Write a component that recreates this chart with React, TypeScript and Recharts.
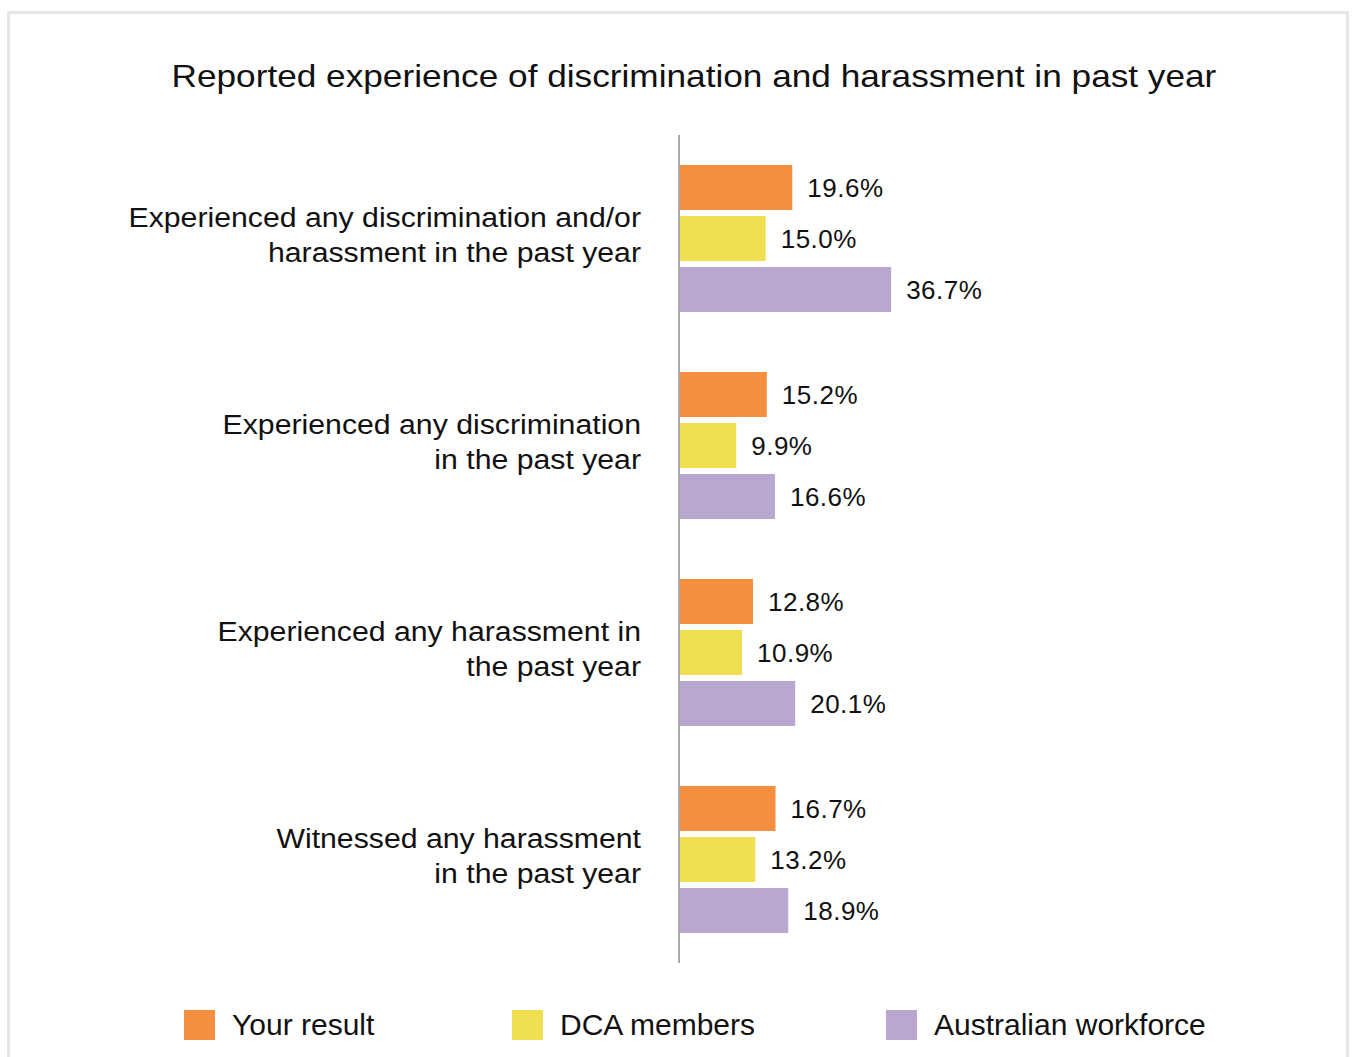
import React from "react";
import { BarChart, Bar, XAxis, YAxis, LabelList } from "recharts";

const categories = [
  "Experienced any discrimination and/or|harassment in the past year",
  "Experienced any discrimination|in the past year",
  "Experienced any harassment in|the past year",
  "Witnessed any harassment|in the past year",
];
const yourResult = [19.6, 15.2, 12.8, 16.7];
const dcaMembers = [15.0, 9.9, 10.9, 13.2];
const australianWorkforce = [36.7, 16.6, 20.1, 18.9];

const series = [
  { key: "your", name: "Your result", color: "#F68E40" },
  { key: "dca", name: "DCA members", color: "#F1DF52" },
  { key: "aus", name: "Australian workforce", color: "#B9A6D1" },
];

const data = categories.map((c, i) => ({
  name: c,
  your: yourResult[i],
  dca: dcaMembers[i],
  aus: australianWorkforce[i],
}));

const FONT = "'Liberation Sans', Arial, sans-serif";

function CategoryTick(props: any) {
  const { x, y, payload } = props;
  const lines = String(payload.value).split("|");
  return (
    <g transform={`translate(${x - 30},${y}) scale(1.12,1)`}>
      {lines.map((l, i) => (
        <text
          key={i}
          x={0}
          y={-21 + i * 35}
          textAnchor="end"
          dominantBaseline="central"
          fontSize={27}
          fill="#111"
          fontFamily={FONT}
        >
          {l}
        </text>
      ))}
    </g>
  );
}

const legendLeft = [184, 512, 886];

export default function App() {
  return (
    <div style={{ position: "absolute", left: 0, top: 0, width: 1352, height: 1057, background: "#fff", fontFamily: FONT }}>
      <div
        style={{
          position: "absolute",
          left: 7,
          top: 11,
          width: 1342,
          height: 1060,
          border: "3px solid #e6e6e6",
          boxSizing: "border-box",
        }}
      />
      <div
        style={{
          position: "absolute",
          left: 0,
          top: 58,
          width: 1387,
          textAlign: "center",
          fontSize: 32,
          color: "#111",
        }}
      >
        <span style={{ display: "inline-block", transform: "scaleX(1.1)" }}>
          Reported experience of discrimination and harassment in past year
        </span>
      </div>
      <div style={{ position: "absolute", left: 0, top: 0 }}>
        <BarChart
          width={1352}
          height={1057}
          data={data}
          layout="vertical"
          margin={{ top: 135, right: 95, bottom: 94, left: 0 }}
          barSize={45}
          barGap={6}
        >
          <XAxis type="number" domain={[0, 100]} hide />
          <YAxis
            type="category"
            dataKey="name"
            width={679}
            axisLine={{ stroke: "#aaa", strokeWidth: 2 }}
            tickLine={false}
            tick={<CategoryTick />}
            interval={0}
          />
          {series.map((s) => (
            <Bar key={s.key} dataKey={s.key} name={s.name} fill={s.color} isAnimationActive={false}>
              <LabelList
                dataKey={s.key}
                position="right"
                offset={15}
                formatter={(v: any) => `${Number(v).toFixed(1)}%`}
                style={{ fontSize: 26, fill: "#111", fontFamily: FONT, letterSpacing: 0.5 }}
              />
            </Bar>
          ))}
        </BarChart>
      </div>
      {series.map((s, i) => (
        <div
          key={s.key}
          style={{
            position: "absolute",
            left: legendLeft[i],
            top: 1008,
            display: "flex",
            alignItems: "center",
            fontSize: 30,
            color: "#111",
          }}
        >
          <span style={{ display: "inline-block", width: 31, height: 30, background: s.color, marginRight: 17 }} />
          <span>{s.name}</span>
        </div>
      ))}
    </div>
  );
}
